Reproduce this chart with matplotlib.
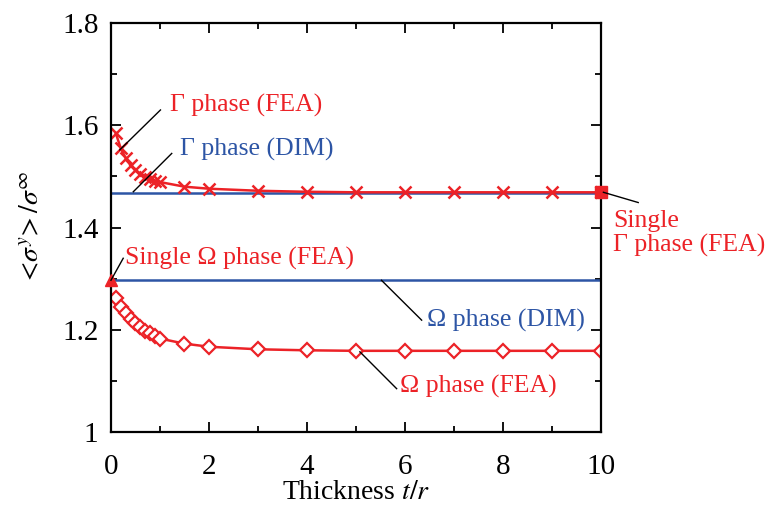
import numpy as np
import matplotlib.pyplot as plt
from matplotlib.ticker import MultipleLocator

plt.rcParams["font.family"] = ["Liberation Serif", "DejaVu Serif"]
plt.rcParams["mathtext.fontset"] = "stix"
plt.rcParams["font.size"] = 20

RED = "#ec2227"
BLUE = "#2d55a5"

# 厚さ t/r
t_fea = [0.1, 0.2, 0.3, 0.4, 0.5, 0.6, 0.7, 0.8, 0.9, 1.0,
         1.5, 2, 3, 4, 5, 6, 7, 8, 9, 10]
gamma_fea = [1.584, 1.555, 1.536, 1.522, 1.512, 1.505, 1.499, 1.495, 1.492, 1.489,
             1.480, 1.476, 1.472, 1.470, 1.469, 1.469, 1.469, 1.469, 1.469, 1.469]
omega_fea = [1.263, 1.245, 1.232, 1.222, 1.213, 1.205, 1.198, 1.193, 1.188, 1.183,
             1.173, 1.167, 1.162, 1.160, 1.159, 1.159, 1.159, 1.159, 1.159, 1.159]
t_dim = [0, 10]
gamma_dim = [1.468, 1.468]
omega_dim = [1.297, 1.297]
single_gamma = (10, 1.469)
single_omega = (0, 1.297)

fig = plt.figure(figsize=(7.69, 5.12), dpi=100)
ax = fig.add_axes([0.1443, 0.156, 0.6372, 0.799])

ax.plot(t_dim, gamma_dim, color=BLUE, lw=1.8)
ax.plot(t_dim, omega_dim, color=BLUE, lw=1.8)
ax.plot(t_fea, gamma_fea, color=RED, lw=1.8, marker="x", ms=9, mew=1.8)
ax.plot(t_fea, omega_fea, color=RED, lw=1.8, marker="D", ms=7,
        mfc="white", mec=RED, mew=1.6)
ax.plot(*single_gamma, marker="s", ms=8, color=RED, clip_on=False, zorder=5)
ax.plot(*single_omega, marker="^", ms=9, color=RED, clip_on=False, zorder=5)

ax.set_xlim(0, 10)
ax.set_ylim(1, 1.8)
ax.xaxis.set_major_locator(MultipleLocator(2))
ax.xaxis.set_minor_locator(MultipleLocator(1))
ax.yaxis.set_major_locator(MultipleLocator(0.2))
ax.yaxis.set_minor_locator(MultipleLocator(0.1))
ax.set_yticks([1, 1.2, 1.4, 1.6, 1.8])
ax.set_yticklabels(["1", "1.2", "1.4", "1.6", "1.8"])
ax.tick_params(which="both", direction="in", top=True, right=True, width=1.3,
               labelsize=21)
ax.tick_params(axis="x", which="major", pad=16)
ax.tick_params(axis="y", which="major", pad=9)
ax.tick_params(which="major", length=7)
ax.tick_params(which="minor", length=4)
for s in ax.spines.values():
    s.set_linewidth(1.6)

ax.set_xlabel("Thickness $t/r$", fontsize=20, labelpad=0)
ax.set_ylabel(r"$<\!\sigma^{y}\!>/\sigma^{\infty}$", fontsize=20, labelpad=13)

# 引出線とラベル
notes = [
    ((0.18, 1.552), (1.01, 1.630), (1.2, 1.638), "Γ phase (FEA)", RED),
    ((0.455, 1.470), (1.24, 1.545), (1.41, 1.552), "Γ phase (DIM)", BLUE),
    ((0.0, 1.297), (0.25, 1.340), (0.29, 1.340), "Single Ω phase (FEA)", RED),
    ((5.52, 1.297), (6.34, 1.219), (6.44, 1.219), "Ω phase (DIM)", BLUE),
    ((5.08, 1.157), (5.83, 1.085), (5.90, 1.089), "Ω phase (FEA)", RED),
    ((10.05, 1.469), (10.76, 1.449), (10.25, 1.389), "Single\nΓ phase (FEA)", RED),
]
for p0, p1, ptxt, label, col in notes:
    ax.plot([p0[0], p1[0]], [p0[1], p1[1]], color="black", lw=1.0,
            clip_on=False, zorder=6)
    ax.text(ptxt[0], ptxt[1], label, color=col, fontsize=18.5, ha="left",
            va="center", linespacing=1.1)

fig.savefig("out.png", dpi=100)
